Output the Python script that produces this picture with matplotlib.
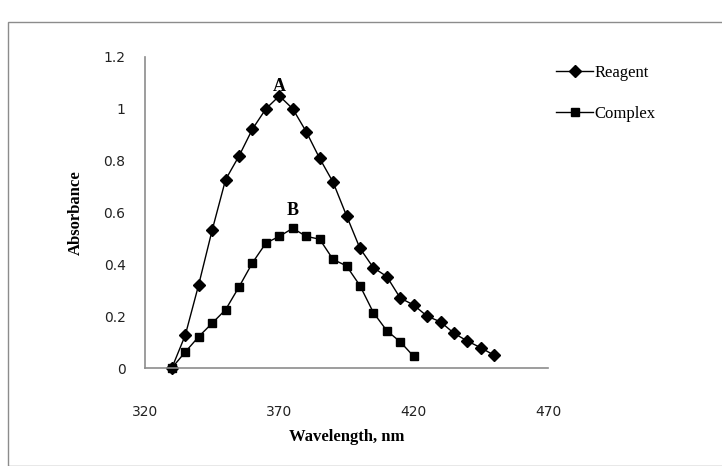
import matplotlib
matplotlib.use("Agg")
import matplotlib.pyplot as plt
from matplotlib.patches import Rectangle

# wavelengths, nm
reagent_x = [330, 335, 340, 345, 350, 355, 360, 365, 370, 375, 380, 385, 390,
             395, 400, 405, 410, 415, 420, 425, 430, 435, 440, 445, 450]
reagent_y = [0.0, 0.127, 0.322, 0.532, 0.727, 0.818, 0.922, 1.0, 1.05, 1.0,
             0.912, 0.809, 0.717, 0.588, 0.462, 0.387, 0.353, 0.27, 0.243,
             0.20, 0.178, 0.134, 0.104, 0.078, 0.049]

complex_x = [330, 335, 340, 345, 350, 355, 360, 365, 370, 375, 380, 385, 390,
             395, 400, 405, 410, 415, 420]
complex_y = [0.0, 0.062, 0.121, 0.173, 0.225, 0.313, 0.406, 0.482, 0.508,
             0.539, 0.508, 0.497, 0.419, 0.394, 0.318, 0.214, 0.144, 0.101,
             0.045]

x_ticks = [320, 370, 420, 470]
y_ticks = [0, 0.2, 0.4, 0.6, 0.8, 1.0, 1.2]
y_ticklabels = ["0", "0.2", "0.4", "0.6", "0.8", "1", "1.2"]

serif = "Liberation Serif"
sans = "DejaVu Sans"

fig = plt.figure(figsize=(7.22, 4.66), dpi=100)
# outer chart frame
fig.patches.append(Rectangle((8 / 722, 0), 1.0, (466 - 22) / 466,
                             transform=fig.transFigure, fill=False,
                             edgecolor="#8c8c8c", linewidth=1.0))

ax = fig.add_axes([145 / 722, (466 - 368) / 466, (548 - 145) / 722, (368 - 57) / 466])

ax.plot(reagent_x, reagent_y, color="black", linewidth=1.0, marker="D",
        markersize=5.8, label="Reagent", clip_on=False)
ax.plot(complex_x, complex_y, color="black", linewidth=1.0, marker="s",
        markersize=6, label="Complex", clip_on=False)

ax.set_xlim(320, 470)
ax.set_ylim(0, 1.2)
ax.set_xticks(x_ticks)
ax.set_yticks(y_ticks)
ax.set_yticklabels(y_ticklabels)
ax.tick_params(axis="both", length=0, labelsize=10, colors="#222222")
ax.tick_params(axis="x", pad=27)
ax.tick_params(axis="y", pad=14)
for lab in ax.get_xticklabels() + ax.get_yticklabels():
    lab.set_family(sans)

for s in ["top", "right"]:
    ax.spines[s].set_visible(False)
for s in ["left", "bottom"]:
    ax.spines[s].set_color("#8c8c8c")
    ax.spines[s].set_linewidth(1.2)

ax.set_ylabel("Absorbance", family=serif, fontweight="bold", fontsize=12, labelpad=14)
ax.set_xlabel("Wavelength, nm", family=serif, fontweight="bold", fontsize=12, labelpad=7)

ax.text(reagent_x[reagent_y.index(max(reagent_y))], 1.055, "A", family=serif,
        fontweight="bold", fontsize=13, ha="center", va="bottom")
ax.text(complex_x[complex_y.index(max(complex_y))], 0.575, "B", family=serif,
        fontweight="bold", fontsize=13, ha="center", va="bottom")

leg = ax.legend(loc="upper left", bbox_to_anchor=(1.0, 1.0), frameon=False,
                prop={"family": serif, "size": 12}, handlelength=2.2,
                handletextpad=0.1, labelspacing=1.5, borderaxespad=0.1)

fig.savefig("out.png", dpi=100)
